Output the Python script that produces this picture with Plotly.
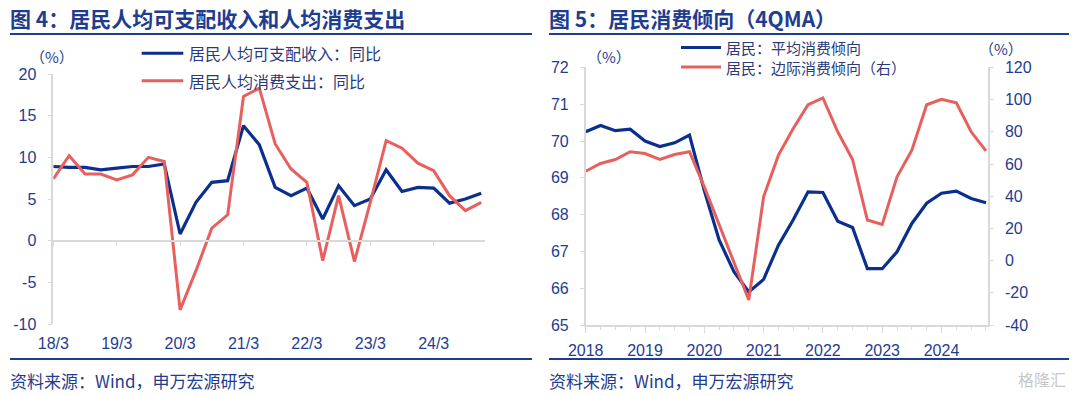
import plotly.graph_objects as go

W, H = 1080, 396

# ---------------- data ----------------
quarters = [f"{y}Q{q}" for y in range(2018, 2025) for q in range(1, 5)]
left_tick_labels = ["18/3", "19/3", "20/3", "21/3", "22/3", "23/3", "24/3"]
left_tick_index = [0, 4, 8, 12, 16, 20, 24]
left_y_ticks = [-10, -5, 0, 5, 10, 15, 20]
right_y1_ticks = [65, 66, 67, 68, 69, 70, 71, 72]
right_y2_ticks = [-40, -20, 0, 20, 40, 60, 80, 100, 120]

income_yoy = [8.9, 8.8, 8.8, 8.5, 8.7, 8.9, 8.9, 9.2,
              0.8, 4.6, 7.0, 7.2, 13.8, 11.5, 6.4, 5.4,
              6.3, 2.6, 6.6, 4.2, 5.0, 8.5, 5.9, 6.4,
              6.3, 4.5, 5.0, 5.7]
consumption_yoy = [7.4, 10.2, 8.0, 8.0, 7.3, 7.9, 10.0, 9.5,
                   -8.3, -3.6, 1.5, 3.1, 17.3, 18.3, 11.6, 8.6,
                   7.0, -2.4, 5.4, -2.5, 4.6, 12.0, 11.1, 9.3,
                   8.4, 5.4, 3.6, 4.6]

right_years = [2018, 2019, 2020, 2021, 2022, 2023, 2024]
avg_propensity = [70.25, 70.42, 70.28, 70.32, 70.0, 69.85, 69.95, 70.16,
                  68.65, 67.31, 66.45, 65.9, 66.24, 67.17, 67.86, 68.62,
                  68.6, 67.82, 67.65, 66.53, 66.53, 66.99, 67.76, 68.31,
                  68.58, 68.64, 68.44, 68.32]
marginal_propensity = [55.5, 60.3, 62.8, 67.6, 66.5, 62.8, 65.9, 67.6,
                       45.8, 22.0, -0.7, -24.5, 39.6, 65.5, 82.0, 96.8,
                       101.0, 80.0, 62.8, 25.2, 22.5, 52.0, 68.6, 96.8,
                       100.2, 98.0, 80.0, 68.2]

# ---------------- styling ----------------
BLUE = "#0a2f8c"
RED = "#e8605d"
TXT = "#1f3d8f"
LEG = "#2a3a7a"
GRAY = "#d9d9d9"
NUMFONT = "Liberation Sans, Arial, Noto Sans CJK SC"
CJK = "Noto Sans CJK SC, Liberation Sans"


def px(x):
    return x / W


def py(y):
    return 1 - y / H


left_x = list(range(len(quarters)))
right_x = [int(q[:4]) + (int(q[-1]) - 1) / 4 for q in quarters]

fig = go.Figure()
# left chart
fig.add_trace(go.Scatter(x=left_x, y=income_yoy, mode="lines",
                         line=dict(color=BLUE, width=3.2),
                         xaxis="x", yaxis="y", showlegend=False))
fig.add_trace(go.Scatter(x=left_x, y=consumption_yoy, mode="lines",
                         line=dict(color=RED, width=3),
                         xaxis="x", yaxis="y", showlegend=False))
fig.add_trace(go.Scatter(x=[None], y=[None], xaxis="x3", yaxis="y",
                         showlegend=False, hoverinfo="skip"))
# right chart
fig.add_trace(go.Scatter(x=right_x, y=avg_propensity, mode="lines",
                         line=dict(color=BLUE, width=3.2),
                         xaxis="x2", yaxis="y2", showlegend=False))
fig.add_trace(go.Scatter(x=right_x, y=marginal_propensity, mode="lines",
                         line=dict(color=RED, width=3),
                         xaxis="x2", yaxis="y3", showlegend=False))

tickfont = dict(family=NUMFONT, size=16, color=TXT)

L_X0, L_X1 = 53.3, 485.2
L_Y0, L_Y1 = 74, 324
R_X0, R_X1 = 585.7, 988
R_Y0, R_Y1 = 67.4, 325

minor_q = [y + k / 4 for y in range(2018, 2025) for k in range(1, 4)]

fig.update_layout(
    width=W, height=H,
    margin=dict(l=0, r=0, t=0, b=0, pad=0, autoexpand=False),
    paper_bgcolor="white", plot_bgcolor="white",
    showlegend=False,
    xaxis=dict(domain=[px(L_X0), px(L_X1)], range=[0, 27.25], anchor="y",
               automargin=False,
               showline=False, showgrid=False, zeroline=False,
               tickmode="array", tickvals=left_tick_index, ticktext=left_tick_labels,
               ticks="", tickfont=tickfont, ticklabelstandoff=8),
    xaxis3=dict(overlaying="x", anchor="free", position=py(240.67),
                automargin=False,
                range=[0, 27.25], showline=True, linecolor=GRAY, linewidth=1.5,
                showgrid=False, zeroline=False, tickmode="array",
                tickvals=left_tick_index, ticks="outside", ticklen=5,
                tickcolor=GRAY, showticklabels=False),
    yaxis=dict(domain=[py(L_Y1), py(L_Y0)], range=[-10, 20], anchor="x",
               automargin=False,
               tickmode="array", tickvals=left_y_ticks,
               ticktext=[str(v) for v in left_y_ticks],
               showline=True, linecolor=GRAY, linewidth=1.5,
               ticks="outside", ticklen=4, tickcolor=GRAY,
               showgrid=False, zeroline=False, tickfont=tickfont,
               ticklabelstandoff=8),
    xaxis2=dict(domain=[px(R_X0), px(R_X1)], range=[2018, 2024.784], anchor="y2",
                automargin=False,
                showline=True, linecolor=GRAY, linewidth=1.5,
                showgrid=False, zeroline=False, tickmode="array",
                tickvals=right_years, ticktext=[str(y) for y in right_years],
                ticks="outside", ticklen=6, tickcolor=GRAY, tickfont=tickfont,
                minor=dict(tickmode="array", tickvals=minor_q, ticks="outside",
                           ticklen=3, tickcolor=GRAY, showgrid=False),
                ticklabelstandoff=4),
    yaxis2=dict(domain=[py(R_Y1), py(R_Y0)], range=[65, 72], anchor="x2",
                automargin=False,
                tickmode="array", tickvals=right_y1_ticks,
                ticktext=[str(v) for v in right_y1_ticks],
                showline=True, linecolor=GRAY, linewidth=1.5,
                ticks="outside", ticklen=4, tickcolor=GRAY,
                showgrid=False, zeroline=False, tickfont=tickfont,
                ticklabelstandoff=8),
    yaxis3=dict(overlaying="y2", side="right", anchor="x2", range=[-40, 120],
                automargin=False,
                tickmode="array", tickvals=right_y2_ticks,
                ticktext=[str(v) for v in right_y2_ticks],
                showline=True, linecolor=GRAY, linewidth=1.5,
                ticks="outside", ticklen=4, tickcolor=GRAY,
                showgrid=False, zeroline=False, tickfont=tickfont,
                ticklabelstandoff=8),
)

ann = []
shapes = []


def text(x, y, s, size, color=TXT, xanchor="left", family=CJK):
    ann.append(dict(x=px(x), y=py(y), xref="paper", yref="paper", text=s,
                    showarrow=False, xanchor=xanchor, yanchor="middle",
                    font=dict(family=family, size=size, color=color)))


def hline(x0, x1, y, color, width):
    shapes.append(dict(type="line", xref="paper", yref="paper",
                       x0=px(x0), x1=px(x1), y0=py(y), y1=py(y),
                       line=dict(color=color, width=width)))


# titles and frame lines
text(8, 18, "<b>图 4：居民人均可支配收入和人均消费支出</b>", 21)
text(547, 18, "<b>图 5：居民消费倾向（4QMA）</b>", 21)
hline(10, 532, 34, TXT, 2)
hline(549, 1069, 34, TXT, 2)
hline(10, 532, 359, TXT, 2)
hline(549, 1069, 359, TXT, 2)
text(8, 380, "资料来源：Wind，申万宏源研究", 17)
text(547, 380, "资料来源：Wind，申万宏源研究", 17)
text(1068, 379, "格隆汇", 16, color="#c8c8c8", xanchor="right")

# unit labels
text(52, 57, "（%）", 15, xanchor="center")
text(609, 56, "（%）", 15, xanchor="center")
text(1001, 49, "（%）", 15, xanchor="center")

# legends
legend_left = [("居民人均可支配收入：同比", BLUE, 53.3),
               ("居民人均消费支出：同比", RED, 80.7)]
for name, col, yy in legend_left:
    hline(141.7, 183.3, yy, col, 3)
    text(186.7, yy, name, 16, color=LEG)

legend_right = [("居民：平均消费倾向", BLUE, 47.5),
                ("居民：边际消费倾向（右）", RED, 67)]
for name, col, yy in legend_right:
    hline(681, 721, yy, col, 3)
    text(724, yy, name, 15, color=LEG)

fig.update_layout(annotations=ann, shapes=shapes)
fig.write_html("out.html",
               config={"displayModeBar": False},
               post_script="document.body.style.margin='0px';"
                           "document.body.style.padding='0px';")
